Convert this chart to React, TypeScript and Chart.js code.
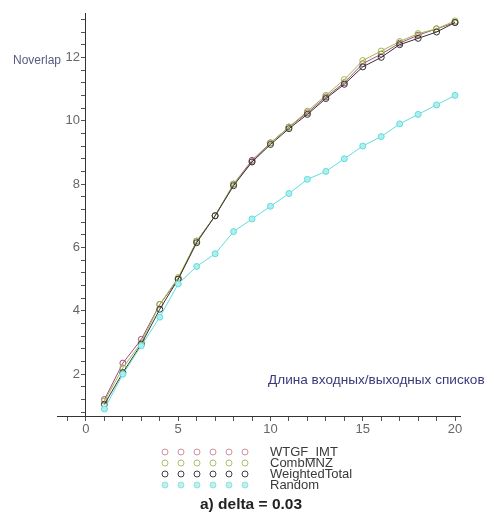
import { useEffect, useRef } from "react";
import { Chart, registerables } from "chart.js";

Chart.register(...registerables);

const xValues = [1, 2, 3, 4, 5, 6, 7, 8, 9, 10, 11, 12, 13, 14, 15, 16, 17, 18, 19, 20];
const wtgfImt = [1.2, 2.35, 3.1, 4.2, 5.0, 6.2, 7.0, 8.0, 8.75, 9.3, 9.8, 10.25, 10.75, 11.2, 11.8, 12.1, 12.45, 12.7, 12.9, 13.1];
const combMnz = [1.15, 2.2, 3.0, 4.2, 5.05, 6.2, 7.0, 8.0, 8.7, 9.3, 9.8, 10.3, 10.8, 11.3, 11.9, 12.2, 12.5, 12.75, 12.9, 13.15];
const weightedTotal = [1.05, 2.05, 2.95, 4.05, 5.0, 6.15, 7.0, 7.95, 8.7, 9.25, 9.75, 10.2, 10.7, 11.15, 11.7, 12.0, 12.4, 12.6, 12.8, 13.1];
const randomVals = [0.9, 2.0, 2.9, 3.8, 4.85, 5.4, 5.8, 6.5, 6.9, 7.3, 7.7, 8.15, 8.4, 8.8, 9.2, 9.5, 9.9, 10.2, 10.5, 10.8];

const seriesNames = ["WTGF_IMT", "CombMNZ", "WeightedTotal", "Random"];
const seriesColors = ["#a8488c", "#9fba40", "#333333", "#62dcdc"];
const legendColors = ["#cf8f9f", "#a8c070", "#404048", "#8fe0e0"];

const yAxisTitle = "Noverlap";
const xAxisTitle = "Длина входных/выходных списков";
const chartTitle = "a) delta = 0.03";

const FONT = "'Liberation Sans', Arial, sans-serif";

const isMult = (v: number, m: number) => Math.abs(v / m - Math.round(v / m)) < 1e-6;

const decorPlugin = {
  id: "decor",
  afterDraw(chart: any) {
    const ctx = chart.ctx as CanvasRenderingContext2D;
    const ys = chart.scales.y;
    const xs = chart.scales.x;
    const axisX = xs.getPixelForValue(0);
    ctx.save();
    // y tick labels
    ctx.font = `13px ${FONT}`;
    ctx.fillStyle = "#666";
    ctx.textAlign = "right";
    ctx.textBaseline = "middle";
    ys.ticks.forEach((t: any) => {
      if (isMult(t.value, 2)) {
        ctx.fillText(String(Math.round(t.value)), axisX - 6, ys.getPixelForValue(t.value));
      }
    });
    // y axis title next to "12"
    ctx.font = `12px ${FONT}`;
    ctx.fillStyle = "#5a5a80";
    ctx.textAlign = "left";
    ctx.fillText(yAxisTitle, 13, ys.getPixelForValue(12) + 3);
    // x axis title
    ctx.font = `13.6px ${FONT}`;
    ctx.fillStyle = "#3a3a7a";
    ctx.fillText(xAxisTitle, 268, 380);
    // legend
    const rowY = [452, 463, 474, 485];
    const markX = [165, 181, 197, 213, 229, 245];
    seriesNames.forEach((name, i) => {
      ctx.strokeStyle = legendColors[i];
      ctx.lineWidth = 1;
      markX.forEach((mx) => {
        ctx.beginPath();
        ctx.arc(mx, rowY[i], 3, 0, Math.PI * 2);
        if (i === 3) {
          ctx.fillStyle = "#bff0f0";
          ctx.fill();
        }
        ctx.stroke();
      });
      ctx.font = `13px ${FONT}`;
      ctx.fillStyle = "#3a3a3a";
      ctx.textAlign = "left";
      ctx.textBaseline = "middle";
      ctx.fillText(name, 270, rowY[i]);
    });
    // title
    ctx.font = `bold 15.5px ${FONT}`;
    ctx.fillStyle = "#222";
    ctx.textAlign = "center";
    ctx.fillText(chartTitle, 251, 505);
    ctx.restore();
  },
};

export default function App() {
  const ref = useRef<HTMLCanvasElement>(null);
  useEffect(() => {
    const mk = (vals: number[]) => xValues.map((x, i) => ({ x, y: vals[i] }));
    const all = [wtgfImt, combMnz, weightedTotal, randomVals];
    const order = [3, 2, 1, 0];
    const datasets = order.map((i) => ({
      label: seriesNames[i],
      data: mk(all[i]),
      showLine: true,
      borderColor: seriesColors[i],
      borderWidth: 1,
      pointRadius: 3,
      pointBorderWidth: 1,
      pointBorderColor: seriesColors[i],
      pointBackgroundColor: i === 3 ? "#aeeeee" : "rgba(255,255,255,0)",
    }));
    const chart = new Chart(ref.current!, {
      type: "scatter",
      data: { datasets },
      plugins: [decorPlugin],
      options: {
        animation: false,
        responsive: false,
        layout: { padding: { left: 57, right: 34, top: 13, bottom: 100 } },
        plugins: { legend: { display: false }, title: { display: false }, tooltip: { enabled: false } },
        scales: {
          x: {
            type: "linear",
            min: -1.57,
            max: 20.27,
            position: { y: 0.68 } as any,
            grid: { display: true, drawOnChartArea: false, drawTicks: true, tickLength: 4, color: "#555" },
            border: { display: true, color: "#333", width: 1 },
            ticks: {
              stepSize: 1,
              includeBounds: false,
              autoSkip: false,
              maxRotation: 0,
              color: "#666",
              font: { family: FONT, size: 13 },
              padding: 2,
              callback: (v: any) => (isMult(Number(v), 5) ? String(v) : ""),
            },
          },
          y: {
            type: "linear",
            min: 0.68,
            max: 13.4,
            position: { x: 0 } as any,
            grid: { display: true, drawOnChartArea: false, drawTicks: true, tickLength: 4, color: "#555" },
            border: { display: true, color: "#333", width: 1 },
            ticks: {
              stepSize: 0.4,
              includeBounds: false,
              autoSkip: false,
              color: "#666",
              font: { family: FONT, size: 13 },
              callback: () => "",
            },
          },
        },
      },
    });
    return () => chart.destroy();
  }, []);
  return (
    <div style={{ position: "absolute", left: 0, top: 0, width: 494, height: 516, background: "#fff" }}>
      <canvas ref={ref} width={494} height={516} />
    </div>
  );
}
